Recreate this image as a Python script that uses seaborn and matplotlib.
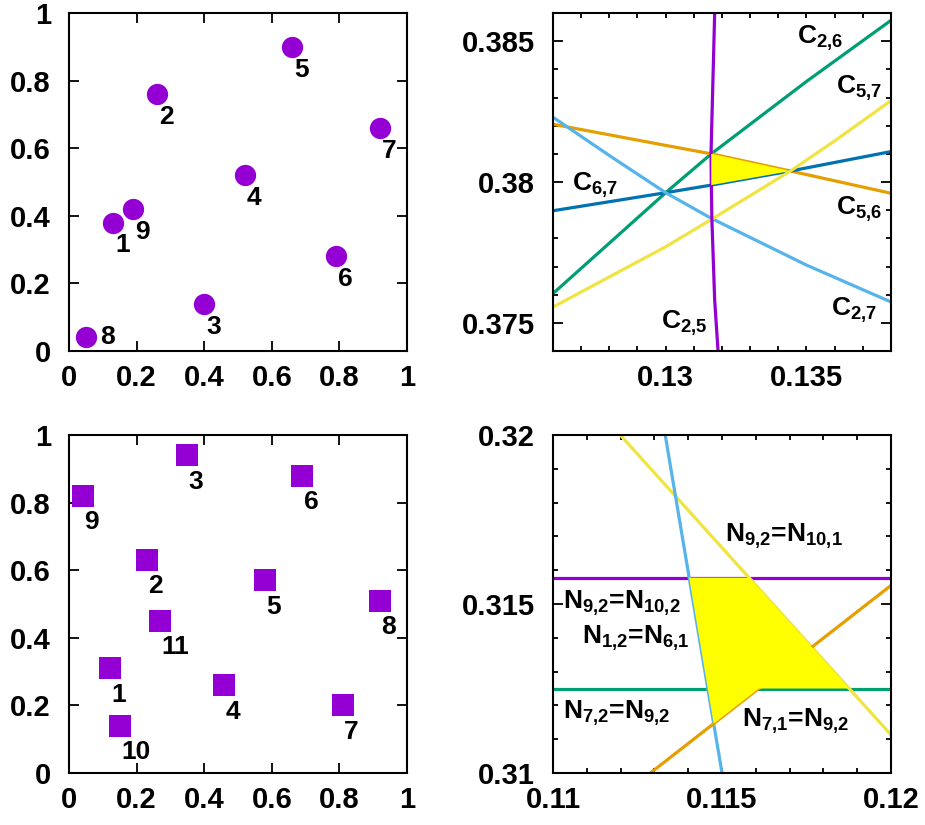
import matplotlib
matplotlib.use('Agg')
import matplotlib.pyplot as plt
from matplotlib.ticker import MultipleLocator, FuncFormatter
import seaborn as sns

# node positions, top-left panel (circles)
circle_ids = ['1', '2', '3', '4', '5', '6', '7', '8', '9']
circle_x = [0.13, 0.26, 0.40, 0.52, 0.66, 0.79, 0.92, 0.05, 0.19]
circle_y = [0.38, 0.76, 0.14, 0.52, 0.90, 0.28, 0.66, 0.04, 0.42]

# node positions, bottom-left panel (squares)
square_ids = ['1', '2', '3', '4', '5', '6', '7', '8', '9', '10', '11']
square_x = [0.12, 0.23, 0.35, 0.46, 0.58, 0.69, 0.81, 0.92, 0.04, 0.15, 0.27]
square_y = [0.31, 0.63, 0.94, 0.26, 0.57, 0.88, 0.20, 0.51, 0.82, 0.14, 0.45]

# top-right curves
c26_x = [0.1260, 0.1300, 0.13162, 0.1350, 0.1380]
c26_y = [0.37604, 0.37962, 0.38100, 0.38357, 0.38574]
c56_x = [0.1260, 0.1300, 0.13162, 0.13443, 0.1380]
c56_y = [0.38205, 0.38130, 0.38100, 0.38039, 0.37960]
c67_x = [0.1260, 0.1300, 0.13162, 0.13443, 0.1380]
c67_y = [0.37898, 0.37962, 0.37989, 0.38039, 0.38108]
c27_x = [0.1260, 0.1280, 0.1300, 0.13162, 0.1350, 0.1380]
c27_y = [0.38230, 0.38094, 0.37962, 0.37871, 0.37705, 0.37574]
c57_x = [0.1260, 0.1300, 0.13162, 0.13443, 0.1360, 0.1380]
c57_y = [0.37556, 0.37770, 0.37867, 0.38039, 0.38146, 0.38289]
c25_x = [0.13174, 0.13161, 0.13162, 0.13164, 0.13174, 0.13186]
c25_y = [0.3860, 0.3810, 0.3800, 0.3787, 0.3758, 0.3740]
tri_x = [0.13162, 0.13443, 0.13162]
tri_y = [0.38100, 0.38039, 0.37989]

# bottom-right lines
n_purple_x = [0.110, 0.120]
n_purple_y = [0.31578, 0.31578]
n_green_x = [0.110, 0.120]
n_green_y = [0.3125, 0.3125]
n_yellow_x = [0.11199, 0.120]
n_yellow_y = [0.320, 0.31113]
n_blue_x = [0.11332, 0.115]
n_blue_y = [0.320, 0.310]
n_orange_x = [0.11288, 0.120]
n_orange_y = [0.310, 0.31555]
poly_x = [0.11403, 0.11580, 0.11876, 0.11609, 0.114755]
poly_y = [0.31578, 0.31578, 0.3125, 0.3125, 0.311462]

PURPLE = '#9400D3'
GREEN = '#009E73'
LBLUE = '#56B4E9'
ORANGE = '#E69F00'
YELLOW = '#F0E442'
DBLUE = '#0072B2'

sns.set_style('ticks')
plt.rcParams['font.family'] = ['Liberation Sans', 'DejaVu Sans']
plt.rcParams['font.weight'] = 'bold'
plt.rcParams['text.color'] = 'black'
plt.rcParams['axes.edgecolor'] = 'black'
plt.rcParams['xtick.color'] = 'black'
plt.rcParams['ytick.color'] = 'black'
plt.rcParams['mathtext.fontset'] = 'custom'
plt.rcParams['mathtext.bf'] = 'Liberation Sans:bold'
plt.rcParams['mathtext.rm'] = 'Liberation Sans:bold'
plt.rcParams['mathtext.it'] = 'Liberation Sans:bold'
plt.rcParams['mathtext.default'] = 'bf'

fig = plt.figure(figsize=(9.25, 8.25), dpi=100)
W, H = 925.0, 825.0
ax_tl = fig.add_axes([69 / W, 1 - 351 / H, 338 / W, 338 / H])
ax_tr = fig.add_axes([553 / W, 1 - 351 / H, 338 / W, 338 / H])
ax_bl = fig.add_axes([69 / W, 1 - 773 / H, 338 / W, 338 / H])
ax_br = fig.add_axes([553 / W, 1 - 773 / H, 338 / W, 338 / H])

fmt = FuncFormatter(lambda v, p: '{:g}'.format(round(v, 6)))

def style_axes(ax, major, minor=None, xmajor_len=7):
  for s in ax.spines.values():
    s.set_linewidth(1.5)
    s.set_visible(True)
    s.set_color('black')
  ax.xaxis.set_major_locator(MultipleLocator(major))
  ax.yaxis.set_major_locator(MultipleLocator(major))
  if minor:
    ax.xaxis.set_minor_locator(MultipleLocator(minor))
    ax.yaxis.set_minor_locator(MultipleLocator(minor))
  ax.xaxis.set_major_formatter(fmt)
  ax.yaxis.set_major_formatter(fmt)
  ax.tick_params(which='both', direction='in', top=True, right=True,
                 width=1.3, labelsize=21, colors='black')
  ax.tick_params(axis='y', which='major', length=7, pad=13)
  ax.tick_params(axis='x', which='major', length=xmajor_len, pad=9)
  ax.tick_params(which='minor', length=3.6)
  for lab in ax.get_xticklabels() + ax.get_yticklabels():
    lab.set_fontweight('bold')
  ax.set_xlabel('')
  ax.set_ylabel('')

# top-left: circles
sns.scatterplot(x=circle_x, y=circle_y, ax=ax_tl, color=PURPLE, marker='o',
                s=235, linewidth=0, zorder=3)
for i, lab in enumerate(circle_ids):
  off = (10, 0) if lab == '8' else (1.5, -16.5)
  ax_tl.annotate(lab, (circle_x[i], circle_y[i]), xytext=off,
                 textcoords='offset points', ha='left', va='center',
                 fontsize=19, fontweight='bold')
ax_tl.set_xlim(0, 1)
ax_tl.set_ylim(0, 1)
style_axes(ax_tl, 0.2)

# bottom-left: squares
sns.scatterplot(x=square_x, y=square_y, ax=ax_bl, color=PURPLE, marker='s',
                s=240, linewidth=0, zorder=3)
for i, lab in enumerate(square_ids):
  ax_bl.annotate(lab, (square_x[i], square_y[i]), xytext=(1, -19),
                 textcoords='offset points', ha='left', va='center',
                 fontsize=19, fontweight='bold')
ax_bl.set_xlim(0, 1)
ax_bl.set_ylim(0, 1)
style_axes(ax_bl, 0.2)

# top-right: curves
lw = 2.3
for xs, ys, col in [(c26_x, c26_y, GREEN), (c56_x, c56_y, ORANGE),
                    (c67_x, c67_y, DBLUE), (c27_x, c27_y, LBLUE),
                    (c57_x, c57_y, YELLOW), (c25_x, c25_y, PURPLE)]:
  sns.lineplot(x=xs, y=ys, ax=ax_tr, color=col, lw=lw, sort=False,
               estimator=None)
ax_tr.fill(tri_x, tri_y, color='#FFFF00', lw=0, zorder=3)
tr_labels = [(r'$C_{2{,}6}$', 0.13548, 0.38511), (r'$C_{5{,}7}$', 0.13688, 0.38333),
             (r'$C_{6{,}7}$', 0.12751, 0.37989), (r'$C_{5{,}6}$', 0.13688, 0.37902),
             (r'$C_{2{,}7}$', 0.13670, 0.37544), (r'$C_{2{,}5}$', 0.13067, 0.37497)]
for t, x, y in tr_labels:
  ax_tr.text(x, y, t, fontsize=19, ha='center', va='center', zorder=4)
ax_tr.set_xlim(0.126, 0.138)
ax_tr.set_ylim(0.374, 0.386)
style_axes(ax_tr, 0.005, 0.001, xmajor_len=3.6)

# bottom-right: lines
for xs, ys, col in [(n_purple_x, n_purple_y, PURPLE), (n_green_x, n_green_y, GREEN),
                    (n_yellow_x, n_yellow_y, YELLOW), (n_blue_x, n_blue_y, LBLUE),
                    (n_orange_x, n_orange_y, ORANGE)]:
  sns.lineplot(x=xs, y=ys, ax=ax_br, color=col, lw=lw, sort=False,
               estimator=None)
ax_br.fill(poly_x, poly_y, color='#FFFF00', lw=0, zorder=3)
br_labels = [(r'$N_{9{,}2}$=$N_{10{,}1}$', 0.11682, 0.31700),
             (r'$N_{9{,}2}$=$N_{10{,}2}$', 0.11204, 0.31502),
             (r'$N_{1{,}2}$=$N_{6{,}1}$', 0.11244, 0.31399),
             (r'$N_{7{,}2}$=$N_{9{,}2}$', 0.11189, 0.31177),
             (r'$N_{7{,}1}$=$N_{9{,}2}$', 0.11717, 0.31153)]
for t, x, y in br_labels:
  ax_br.text(x, y, t, fontsize=19, ha='center', va='center', zorder=4)
ax_br.set_xlim(0.110, 0.120)
ax_br.set_ylim(0.310, 0.320)
style_axes(ax_br, 0.005, 0.001, xmajor_len=3.6)

plt.savefig('out.png', dpi=100)
